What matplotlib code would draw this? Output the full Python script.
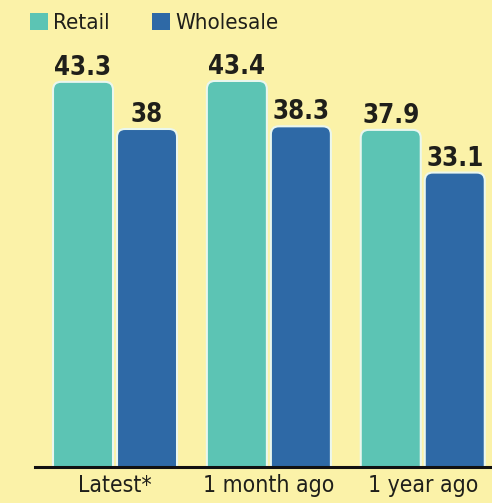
import matplotlib
matplotlib.use("Agg")
import matplotlib.pyplot as plt
from matplotlib.patches import FancyBboxPatch, Patch
import numpy as np

categories = ["Latest*", "1 month ago", "1 year ago"]
retail = [43.3, 43.4, 37.9]
wholesale = [38, 38.3, 33.1]
series_names = ["Retail", "Wholesale"]

bg = "#FBF2A8"
c_retail = "#5CC4B4"
c_whole = "#2E69A6"
txt = "#1f1f1a"

plt.rcParams['font.family'] = ['DejaVu Sans']
plt.rcParams['font.stretch'] = 'condensed'

W, H = 492, 503
fig = plt.figure(figsize=(W/100, H/100), dpi=100, facecolor=bg)
ax = fig.add_axes([35/W, (H-467)/H, 1-35/W, 467/H])
ax.set_facecolor(bg)

x = np.arange(len(categories))
bw = 0.39
off = 0.208
ax.set_xlim(-0.52, 2.45)
ax.set_ylim(0, 52.5)

xpp = (2.45 + 0.52) / (W - 35)
ypp = 52.5 / 467
aspect = ypp / xpp
r = 8 * xpp

def rbar(xc, h, color):
    p = FancyBboxPatch((xc - bw/2, -2), bw, h + 2,
                       boxstyle=f"round,pad=0,rounding_size={r}",
                       mutation_aspect=aspect,
                       facecolor=color, edgecolor="#EAF7EE", linewidth=1.5,
                       clip_on=True)
    ax.add_patch(p)
    ax.text(xc, h + 7 * ypp, f"{h:g}", ha="center", va="baseline",
            fontsize=18.5, fontweight="bold", color=txt, fontstretch="condensed")

for i in range(len(categories)):
    rbar(x[i] - off, retail[i], c_retail)
    rbar(x[i] + off, wholesale[i], c_whole)

for s in ["top", "right", "left"]:
    ax.spines[s].set_visible(False)
ax.spines["bottom"].set_linewidth(2.2)
ax.spines["bottom"].set_color("#111111")
ax.set_yticks([])
ax.set_xticks(x)
ax.set_xticklabels(categories, fontsize=16.5, color=txt, fontstretch="condensed")
ax.tick_params(axis="x", length=0, pad=5)

handles = [Patch(facecolor=c_retail, edgecolor="none"),
           Patch(facecolor=c_whole, edgecolor="none")]
leg = fig.legend(handles, series_names, loc="upper left",
                 bbox_to_anchor=(10/W, 1 + 7/H), ncol=2, frameon=False,
                 fontsize=16, handlelength=0.8, handleheight=0.8,
                 handletextpad=0.25, columnspacing=1.9)
for t in leg.get_texts():
    t.set_color(txt)
    t.set_fontstretch("condensed")

fig.savefig("out.png", dpi=100, facecolor=bg)
